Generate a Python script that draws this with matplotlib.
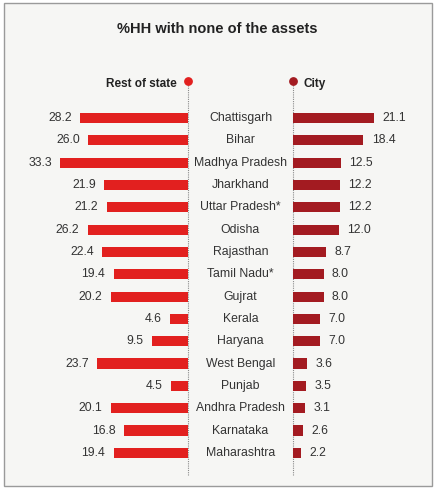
import matplotlib
matplotlib.use("Agg")
import matplotlib.pyplot as plt
from matplotlib.patches import Rectangle

states = ["Chattisgarh", "Bihar", "Madhya Pradesh", "Jharkhand", "Uttar Pradesh*",
          "Odisha", "Rajasthan", "Tamil Nadu*", "Gujrat", "Kerala", "Haryana",
          "West Bengal", "Punjab", "Andhra Pradesh", "Karnataka", "Maharashtra"]
rest_of_state = [28.2, 26.0, 33.3, 21.9, 21.2, 26.2, 22.4, 19.4, 20.2, 4.6, 9.5,
                 23.7, 4.5, 20.1, 16.8, 19.4]
city = [21.1, 18.4, 12.5, 12.2, 12.2, 12.0, 8.7, 8.0, 8.0, 7.0, 7.0, 3.6, 3.5,
        3.1, 2.6, 2.2]

plt.rcParams['font.family'] = ['Liberation Sans', 'DejaVu Sans']

W, H = 435, 494
fig = plt.figure(figsize=(W / 100, H / 100), dpi=100)
fig.patch.set_facecolor("white")
fig.patches.append(Rectangle((4 / W, 1 - 486 / H), 428 / W, 483 / H,
                             transform=fig.transFigure, facecolor="#f6f6f4",
                             edgecolor="#9a9a9a", linewidth=1.0, zorder=-5))

LEFT_C = "#e2201f"
RIGHT_C = "#a31b21"
ppu = 3.83  # pixels per unit
top_px, bot_px = 81, 475
row0, rowstep = 118, 22.33
ylo = -(row0 - top_px) / rowstep
yhi = 15 + (bot_px - (row0 + 15 * rowstep)) / rowstep

ax_b = (H - bot_px) / H
ax_h = (bot_px - top_px) / H

lx0, lx1 = 20, 188
rx0, rx1 = 293, 430
axL = fig.add_axes([lx0 / W, ax_b, (lx1 - lx0) / W, ax_h])
axR = fig.add_axes([rx0 / W, ax_b, (rx1 - rx0) / W, ax_h])

ys = list(range(len(states)))
axL.barh(ys, rest_of_state, height=0.46, color=LEFT_C, zorder=2)
axR.barh(ys, city, height=0.46, color=RIGHT_C, zorder=2)
axL.set_xlim((lx1 - lx0) / ppu, 0)
axR.set_xlim(0, (rx1 - rx0) / ppu)

fs = 8.8
for ax in (axL, axR):
    ax.set_ylim(yhi, ylo)
    ax.axis("off")
    ax.axvline(0, color="#8a8a8a", linestyle=(0, (1, 1)), linewidth=0.8,
               zorder=1, clip_on=False)

for y, v in zip(ys, rest_of_state):
    axL.annotate(f"{v:.1f}", (v, y), xytext=(-6, 0), textcoords="offset points",
                 ha="right", va="center", fontsize=fs, color="#333333")
for y, v in zip(ys, city):
    axR.annotate(f"{v:.1f}", (v, y), xytext=(6, 0), textcoords="offset points",
                 ha="left", va="center", fontsize=fs, color="#333333")

axL.scatter([0], [ylo], s=28, color=LEFT_C, clip_on=False, zorder=3)
axR.scatter([0], [ylo], s=28, color=RIGHT_C, clip_on=False, zorder=3)

cx = (lx1 + rx0) / 2 / W
for y, name in zip(ys, states):
    yf = 1 - (row0 + y * rowstep) / H
    fig.text(cx, yf, name, ha="center", va="center", fontsize=fs, color="#333333")

fig.text(177 / W, 1 - 84 / H, "Rest of state", ha="right", va="center",
         fontsize=8.5, fontweight="bold", color="#222222")
fig.text(304 / W, 1 - 84 / H, "City", ha="left", va="center",
         fontsize=8.5, fontweight="bold", color="#222222")
fig.text(0.5, 1 - 29 / H, "%HH with none of the assets", ha="center", va="center",
         fontsize=10.5, fontweight="bold", color="#222222")

fig.savefig("out.png", dpi=100)
